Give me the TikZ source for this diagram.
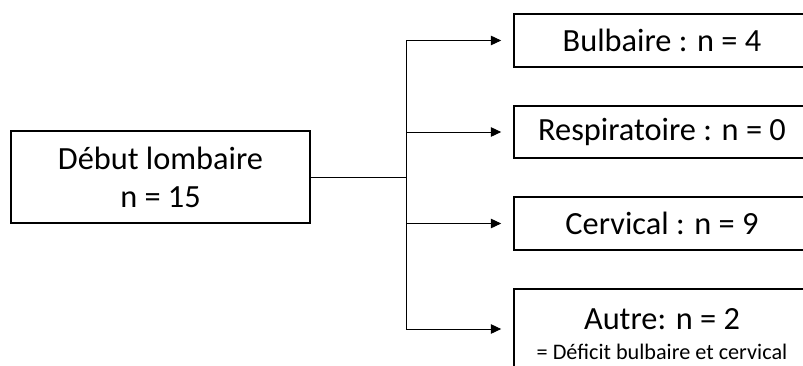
\documentclass[tikz,border=0pt]{standalone}
\usepackage{fontspec}
\setmainfont{Carlito}
\usepackage{tikz}
\usetikzlibrary{positioning,arrows.meta,calc}

\begin{document}
\begin{tikzpicture}[
  box/.style={draw, line width=1.2pt, inner sep=0pt, align=center, font=\fontsize{23}{27}\selectfont},
  arrow/.style={-{Triangle[length=2.6mm, width=2.4mm]}, line width=0.7pt, shorten >=0.3cm},
  link/.style={line width=0.7pt},
]
\useasboundingbox (0,0) rectangle (20.075,-9.125);

% Start
\node[box, minimum width=7.475cm, minimum height=2.3cm] (debut) at (4.0125,-4.425) {Début lombaire\\n = 15};

% Outcomes
\node[box, minimum width=7.4cm, minimum height=1.325cm] (bulb) at (16.55,-1.0125) {Bulbaire : n = 4};
\node[box, minimum width=7.4cm, minimum height=1.3cm] (resp) at (16.55,-3.3) {Respiratoire : n = 0};
\node[box, minimum width=7.4cm, minimum height=1.325cm] (cerv) at (16.55,-5.5875) {Cervical : n = 9};
\node[box, minimum width=7.4cm, minimum height=2.25cm] (autre) at (16.55,-8.35) {Autre: n = 2\\[-5.3pt]{\fontsize{15.8}{16}\selectfont = Déficit bulbaire et cervical}};

\coordinate (split) at (10.15,-4.425);
\draw[link] (debut) -- (split);
\draw[arrow] (split) |- (bulb);
\draw[arrow] (split) |- (resp);
\draw[arrow] (split) |- (cerv);
\draw[arrow] (split) |- ([yshift=0.125cm]autre.west);

\end{tikzpicture}
\end{document}
